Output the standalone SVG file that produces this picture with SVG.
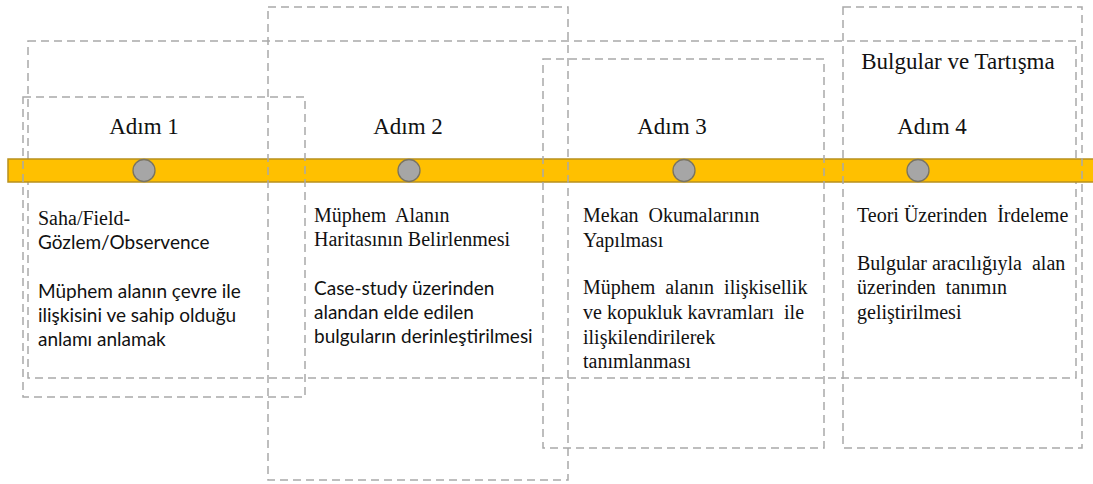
<svg xmlns="http://www.w3.org/2000/svg" width="1093" height="484" viewBox="0 0 1093 484">
<style>
.frame{fill:none;stroke:#a9a9a9;stroke-width:1.5;stroke-dasharray:8 5}
.bar{fill:#ffc000;stroke:#b8901c;stroke-width:1.5}
.dot{fill:#a6a6a6;stroke:#7a7460;stroke-width:1.3}
.hd{font-family:"Liberation Serif",serif;font-size:23px;fill:#111}
.sf{font-family:"Liberation Serif",serif;font-size:20px;fill:#111}
.ss{font-family:Lato,"Liberation Sans",sans-serif;font-size:19px;fill:#111}
</style>
<rect width="1093" height="484" fill="#fff"/>
<g id="frame-outer">
<rect class="frame" x="28" y="41" width="1048" height="337"/>
</g>
<g id="timeline">
<rect class="bar" x="8" y="159" width="1090" height="23"/>
</g>
<g id="step1">
<rect class="frame" x="23" y="97" width="282" height="300"/>
<text class="hd" x="144" y="134" text-anchor="middle">Adım 1</text>
<circle class="dot" cx="144" cy="170.5" r="11"/>
<text class="sf" x="38" y="225">Saha/Field-</text>
<text class="ss" x="38" y="249">Gözlem/Observence</text>
<text class="ss" x="38" y="298">Müphem alanın çevre ile</text>
<text class="ss" x="38" y="322">ilişkisini ve sahip olduğu</text>
<text class="ss" x="38" y="346">anlamı anlamak</text>
</g>
<g id="step2">
<rect class="frame" x="268" y="7" width="300" height="473"/>
<text class="hd" x="408" y="134" text-anchor="middle">Adım 2</text>
<circle class="dot" cx="409" cy="170.5" r="11"/>
<text class="sf" x="314" y="222" xml:space="preserve">Müphem  Alanın</text>
<text class="sf" x="314" y="246">Haritasının Belirlenmesi</text>
<text class="ss" x="314" y="295">Case-study üzerinden</text>
<text class="ss" x="314" y="319">alandan elde edilen</text>
<text class="ss" x="314" y="343">bulguların derinleştirilmesi</text>
</g>
<g id="step3">
<rect class="frame" x="543" y="59" width="281" height="389"/>
<text class="hd" x="672" y="134" text-anchor="middle">Adım 3</text>
<circle class="dot" cx="684" cy="170.5" r="11"/>
<text class="sf" x="583" y="222" xml:space="preserve">Mekan  Okumalarının</text>
<text class="sf" x="583" y="247">Yapılması</text>
<text class="sf" x="583" y="294" xml:space="preserve">Müphem  alanın  ilişkisellik</text>
<text class="sf" x="583" y="319" xml:space="preserve">ve kopukluk kavramları  ile</text>
<text class="sf" x="583" y="344">ilişkilendirilerek</text>
<text class="sf" x="583" y="368">tanımlanması</text>
</g>
<g id="step4">
<rect class="frame" x="843" y="7" width="239" height="441"/>
<text class="hd" x="958" y="69" text-anchor="middle">Bulgular ve Tartışma</text>
<text class="hd" x="932" y="134" text-anchor="middle">Adım 4</text>
<circle class="dot" cx="918" cy="170.5" r="11"/>
<text class="sf" x="857" y="222" xml:space="preserve">Teori Üzerinden  İrdeleme</text>
<text class="sf" x="857" y="270" xml:space="preserve">Bulgular aracılığıyla  alan</text>
<text class="sf" x="857" y="294" xml:space="preserve">üzerinden  tanımın</text>
<text class="sf" x="857" y="319">geliştirilmesi</text>
</g>
<g id="connectors"></g>
</svg>
